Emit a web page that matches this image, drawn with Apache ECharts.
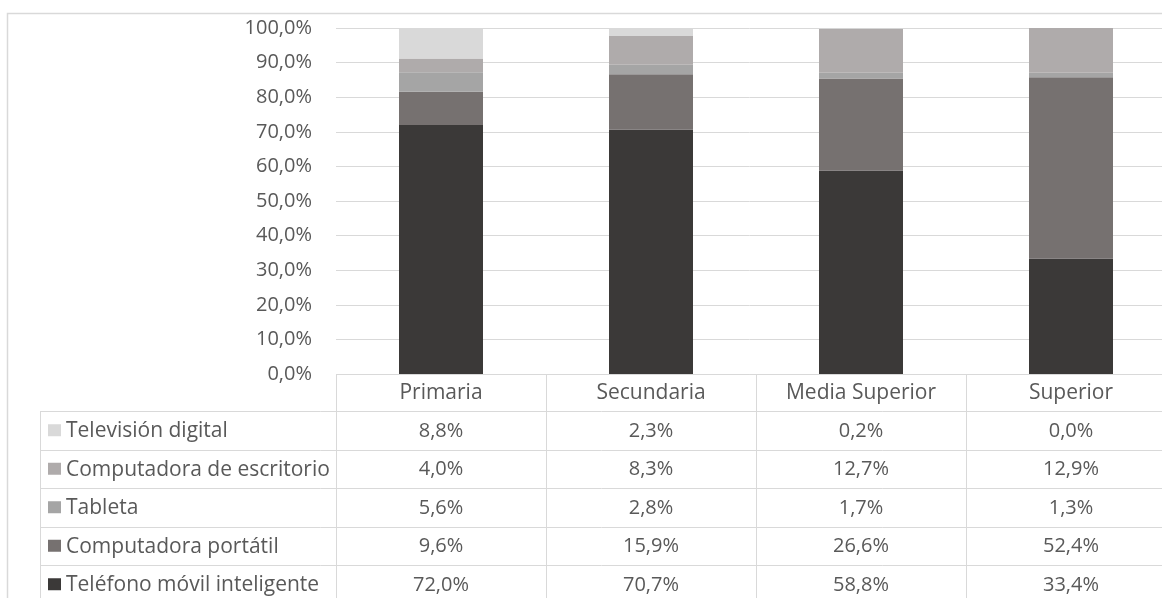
<!DOCTYPE html>
<html>
<head>
<meta charset="utf-8">
<script src="https://cdn.jsdelivr.net/npm/echarts@6/dist/echarts.min.js"></script>
<style>
html,body{margin:0;padding:0;background:#fff;}
#c{width:1162px;height:598px;}
</style>
</head>
<body>
<div id="c"></div>
<script>
// ---- data ----
const categories = ['Primaria', 'Secundaria', 'Media Superior', 'Superior'];
const telefono = [72.0, 70.7, 58.8, 33.4];
const portatil = [9.6, 15.9, 26.6, 52.4];
const tableta = [5.6, 2.8, 1.7, 1.3];
const escritorio = [4.0, 8.3, 12.7, 12.9];
const television = [8.8, 2.3, 0.2, 0.0];
const yTicks = [0, 10, 20, 30, 40, 50, 60, 70, 80, 90, 100];

// bottom -> top stacking order
const seriesDefs = [
  { name: 'Teléfono móvil inteligente', data: telefono, color: '#3b3938' },
  { name: 'Computadora portátil', data: portatil, color: '#767170' },
  { name: 'Tableta', data: tableta, color: '#a5a5a5' },
  { name: 'Computadora de escritorio', data: escritorio, color: '#afabab' },
  { name: 'Televisión digital', data: television, color: '#d9d9d9' }
];
// table rows top -> bottom
const tableRows = seriesDefs.slice().reverse();

const FONT = '"Open Sans"';
const TXT = '#595959';
const LINE = '#d9d9d9';
const FS = 20;      // numbers
const FS_WORD = 21; // words

const chart = echarts.init(document.getElementById('c'), null, { renderer: 'canvas' });

const fmt = v => v.toFixed(1).replace('.', ',') + '%';

const option = {
  animation: false,
  backgroundColor: '#fff',
  grid: { left: 336, top: 28, width: 840, height: 346, containLabel: false, outerBoundsMode: 'none' },
  xAxis: {
    type: 'category',
    data: categories,
    axisLine: { show: false },
    axisTick: { show: false },
    axisLabel: { show: false },
    splitLine: { show: false }
  },
  yAxis: {
    type: 'value',
    min: yTicks[0],
    max: yTicks[yTicks.length - 1],
    interval: 10,
    axisLine: { show: false },
    axisTick: { show: false },
    splitLine: { show: true, lineStyle: { color: LINE, width: 1 } },
    axisLabel: {
      formatter: v => fmt(v),
      color: TXT,
      fontFamily: 'Open Sans',
      fontSize: FS,
      margin: 24
    }
  },
  series: seriesDefs.map(s => ({
    name: s.name,
    type: 'bar',
    stack: 'total',
    barWidth: '40%',
    data: s.data,
    itemStyle: { color: s.color },
    emphasis: { disabled: true }
  }))
};
chart.setOption(option);

// ---- data table built from the axis geometry ----
function buildTable() {
  const grid = chart.getModel().getComponent('grid').coordinateSystem.getRect();
  const xAxis = chart.getModel().getComponent('xAxis').axis;
  const band = xAxis.getBandWidth();
  const top = grid.y + grid.height;     // 0% line
  const headerH = 37;
  const rowH = 38.5;
  const tableLeft = 40;
  const outerLeft = 7, outerTop = 13;
  const right = grid.x + grid.width;
  const els = [];
  const line = (x1, y1, x2, y2) => els.push({
    type: 'line', silent: true,
    shape: { x1, y1, x2, y2 },
    style: { stroke: LINE, lineWidth: 1 }
  });
  // outer chart border
  els.push({ type: 'rect', silent: true, shape: { x: outerLeft + 0.5, y: outerTop + 0.5, width: 1300, height: 800 },
    style: { fill: null, stroke: LINE, lineWidth: 1.5 } });
  const bodyTop = top + headerH;
  const bottom = bodyTop + rowH * tableRows.length;
  // header top line
  line(grid.x, top + 0.5, right, top + 0.5);
  // body horizontal lines
  for (let i = 0; i <= tableRows.length; i++) {
    const y = Math.round(bodyTop + i * rowH) + 0.5;
    line(tableLeft, y, right, y);
  }
  // vertical lines
  line(tableLeft + 0.5, bodyTop, tableLeft + 0.5, bottom + 20);
  for (let i = 0; i <= categories.length; i++) {
    const x = Math.round(grid.x + i * band) + 0.5;
    line(x, top, x, bottom + 20);
  }
  // header labels
  categories.forEach((c, i) => {
    const cx = chart.convertToPixel({ xAxisIndex: 0 }, c);
    els.push({ type: 'text', silent: true, x: cx, y: top + headerH / 2 + 1,
      style: { text: c, fill: TXT, font: FS_WORD + 'px ' + FONT, align: 'center', verticalAlign: 'middle' } });
  });
  // rows
  tableRows.forEach((s, r) => {
    const cy = bodyTop + r * rowH + rowH / 2 + 1;
    els.push({ type: 'rect', silent: true, shape: { x: 48, y: cy - 7, width: 13, height: 12 }, style: { fill: s.color } });
    els.push({ type: 'text', silent: true, x: 66, y: cy,
      style: { text: s.name, fill: TXT, font: FS_WORD + 'px ' + FONT, align: 'left', verticalAlign: 'middle' } });
    s.data.forEach((v, i) => {
      const cx = chart.convertToPixel({ xAxisIndex: 0 }, categories[i]);
      els.push({ type: 'text', silent: true, x: cx, y: cy,
        style: { text: fmt(v), fill: TXT, font: FS + 'px ' + FONT, align: 'center', verticalAlign: 'middle' } });
    });
  });
  chart.setOption({ graphic: { elements: els } });
}
buildTable();
</script>
</body>
</html>
